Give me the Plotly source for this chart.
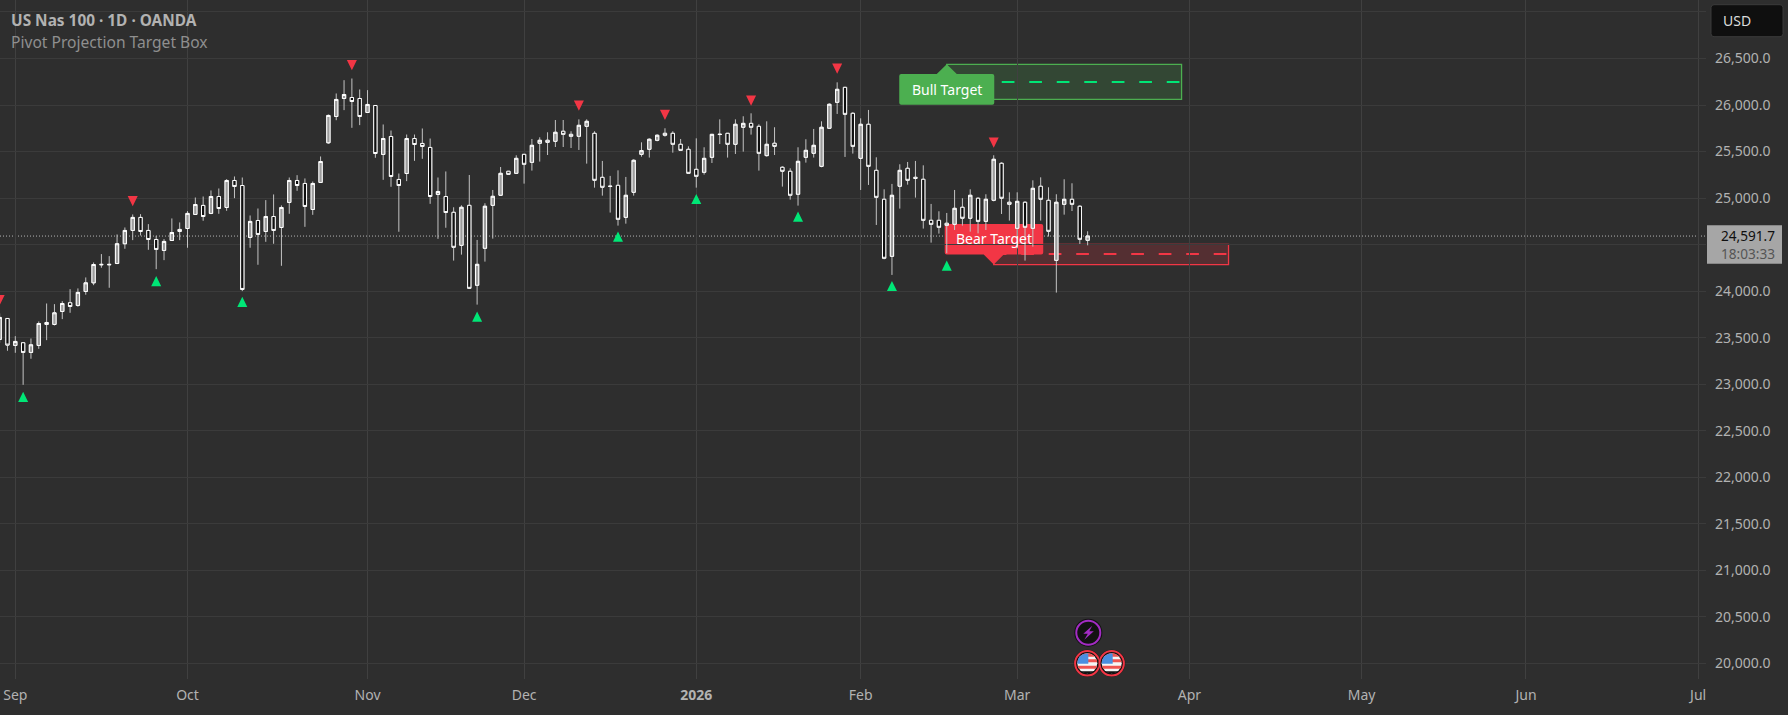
#!/usr/bin/env python
# coding: utf-8
import numpy as np
import plotly.graph_objects as go

# Daily bars, first bar sits two sessions before the September gridline
bar_index = list(range(-2, 138))
opens = [
    23481, 23706, 23416, 23445, 23341, 23416, 23663, 23642, 23781, 23875,
    23846, 23996, 24089, 24288, 24288, 24297, 24509, 24652, 24792, 24652,
    24555, 24437, 24544, 24663, 24673, 24824, 24921, 24835, 25017, 24899,
    25189, 25135, 24577, 24759, 24641, 24802, 24684, 24953, 25189, 25157,
    24877, 25168, 25594, 25877, 26070, 26081, 26070, 25920, 25995, 25469,
    25662, 25200, 25264, 25640, 25587, 25544, 25039, 25017, 24847, 24492,
    24922, 24063, 24460, 24922, 25030, 25288, 25266, 25470, 25384, 25589,
    25621, 25610, 25718, 25685, 25664, 25771, 25696, 25223, 25129, 25137,
    24793, 25062, 25470, 25524, 25621, 25696, 25696, 25578, 25524, 25309,
    25277, 25438, 25687, 25696, 25578, 25761, 25803, 25771, 25456, 25589,
    25331, 25288, 25041, 25438, 25481, 25341, 25750, 26029, 26190, 25911,
    25427, 25793, 25298, 24987, 24374, 25127, 25320, 25223, 25202, 24761,
    24761, 24729, 24718, 24901, 24783, 24998, 24750, 24976, 25374, 24955,
    24675, 24955, 24675, 25127, 24976, 24331, 24933, 24987, 24912, 24546,
]
highs = [
    23760, 23710, 23516, 23450, 23491, 23674, 23867, 23860, 23892, 24021,
    24029, 24147, 24308, 24398, 24376, 24609, 24684, 24824, 24827, 24720,
    24595, 24559, 24781, 24738, 24860, 25006, 25017, 25082, 25103, 25203,
    25232, 25221, 24813, 24888, 24978, 25039, 24921, 25221, 25246, 25211,
    25178, 25447, 25898, 26124, 26267, 26285, 26167, 26160, 26000, 25791,
    25726, 25264, 25683, 25683, 25748, 25640, 25221, 25286, 24901, 24922,
    25248, 24550, 24944, 25087, 25334, 25292, 25460, 25474, 25635, 25653,
    25707, 25839, 25839, 25718, 25846, 25846, 25718, 25399, 25238, 25298,
    25227, 25417, 25599, 25642, 25685, 25750, 25718, 25635, 25556, 25642,
    25546, 25689, 25846, 25700, 25846, 25879, 25911, 25793, 25825, 25761,
    25341, 25320, 25546, 25632, 25743, 25825, 26018, 26244, 26195, 25922,
    25857, 25947, 25438, 25094, 25152, 25363, 25388, 25399, 25352, 24937,
    24858, 24840, 25087, 24998, 25094, 25008, 25041, 25460, 25384, 25062,
    25062, 24965, 25191, 25223, 25116, 25041, 25202, 25159, 24922, 24643,
]
lows = [
    23445, 23359, 23337, 22993, 23273, 23380, 23473, 23631, 23699, 23767,
    23832, 23961, 24064, 24251, 24036, 24290, 24455, 24548, 24598, 24444,
    24236, 24333, 24541, 24548, 24466, 24820, 24756, 24827, 24831, 24863,
    24999, 24000, 24466, 24283, 24530, 24509, 24272, 24831, 25078, 24691,
    24820, 25164, 25583, 25837, 25945, 25755, 25784, 25916, 25433, 25196,
    25121, 24638, 25182, 25400, 25422, 24938, 24562, 24681, 24328, 24392,
    24025, 23855, 24317, 24564, 25026, 25252, 25259, 25155, 25295, 25392,
    25463, 25549, 25549, 25538, 25517, 25370, 25112, 25026, 24844, 24704,
    24725, 25026, 25445, 25435, 25610, 25660, 25488, 25510, 25263, 25112,
    25252, 25377, 25581, 25435, 25474, 25499, 25682, 25295, 25445, 25463,
    25123, 24983, 24919, 25381, 25435, 25331, 25746, 25904, 25442, 25478,
    25087, 25141, 24711, 24342, 24174, 24887, 25144, 25005, 24672, 24521,
    24618, 24407, 24657, 24704, 24639, 24621, 24657, 24965, 24829, 24758,
    24460, 24328, 24478, 24758, 24586, 23984, 24822, 24861, 24507, 24492,
]
closes = [
    23717, 23420, 23459, 23341, 23423, 23652, 23642, 23767, 23867, 23835,
    23986, 24089, 24286, 24284, 24284, 24509, 24652, 24792, 24641, 24555,
    24448, 24534, 24630, 24641, 24835, 24931, 24802, 25017, 24888, 25189,
    25125, 24018, 24749, 24609, 24802, 24652, 24899, 25189, 25135, 24910,
    25157, 25393, 25888, 26060, 26113, 26038, 25877, 26006, 25479, 25640,
    25232, 25135, 25640, 25576, 25555, 25017, 25071, 24845, 24471, 24901,
    24030, 24288, 24912, 25019, 25266, 25255, 25427, 25363, 25567, 25621,
    25599, 25707, 25685, 25664, 25782, 25825, 25191, 25116, 25125, 24772,
    25030, 25406, 25510, 25632, 25675, 25675, 25578, 25513, 25266, 25234,
    25427, 25685, 25683, 25578, 25793, 25803, 25761, 25481, 25578, 25556,
    25288, 25030, 25395, 25513, 25567, 25761, 26008, 26169, 25900, 25556,
    25793, 25341, 25008, 24353, 25030, 25298, 25191, 25212, 24761, 24718,
    24686, 24707, 24890, 24783, 25030, 24750, 24987, 25417, 24998, 24933,
    24965, 24686, 25105, 24987, 24643, 24955, 24987, 24933, 24557, 24592,
]

# Pivot markers from the indicator
pivot_high_bars = [-2, 15, 43, 72, 83, 94, 105, 125]
pivot_high_prices = [23903, 24967, 26429, 25993, 25893, 26047, 26391, 25596]
pivot_low_bars = [1, 18, 29, 59, 77, 87, 100, 112, 119]
pivot_low_prices = [22864, 24107, 23885, 23726, 24586, 24990, 24801, 24055, 24274]

# Target boxes
bull_start, bull_end = 119, 149
bull_top, bull_mid, bull_bottom = 26437, 26248, 26061
bear_start, bear_end = 125, 155
bear_top, bear_mid, bear_bottom = 24503, 24399, 24285
last_price = 24591.7

# Axis ticks
month_bars = [0, 22, 45, 65, 87, 108, 128, 150, 172, 193, 215]
month_labels = ["Sep", "Oct", "Nov", "Dec", "<b>2026</b>", "Feb", "Mar", "Apr", "May", "Jun", "Jul"]
price_ticks = [20000, 20500, 21000, 21500, 22000, 22500, 23000, 23500, 24000, 24500, 25000, 25500, 26000, 26500, 27000]
# 24,500 sits behind the price tag and 27,000 behind the USD button
price_labels = ["20,000.0", "20,500.0", "21,000.0", "21,500.0", "22,000.0", "22,500.0", "23,000.0", "23,500.0",
                "24,000.0", "", "25,000.0", "25,500.0", "26,000.0", "26,500.0", ""]

BG = "#2e2e2e"
TEXT = "#b2b2b2"
RED = "#f23645"
LIME = "#00e676"
GREEN = "#4caf50"
FONT = "Noto Sans"

# plot area in page pixels
PLOT_W = 1706
PLOT_H = 679


def paper_x(px):
    return px / PLOT_W


def paper_y(py):
    return (PLOT_H - py) / PLOT_H


def chord_path(r, top, bottom, left=None, right=None):
    # piece of a circle between two heights, as a polygon, y is up from the centre
    ys = np.linspace(top, bottom, 12)
    half = np.sqrt(np.maximum(r * r - ys * ys, 0))
    xl = -half if left is None else np.maximum(-half, left)
    xr = half if right is None else np.minimum(half, right)
    pts = list(zip(xr, ys)) + list(zip(xl[::-1], ys[::-1]))
    return "M " + " L ".join(f"{x:.2f},{y:.2f}" for x, y in pts) + " Z"


def label_path(left, right, near, far, flip):
    # rounded label with a notch, apex on the anchor, near/far are heights from the apex
    s = -1 if flip else 1
    n, f = near * s, far * s
    r = 2 * s
    return (f"M 0,0 L {-10},{n} L {left + 2},{n} Q {left},{n} {left},{n + r} L {left},{f - r} "
            f"Q {left},{f} {left + 2},{f} L {right - 2},{f} Q {right},{f} {right},{f - r} "
            f"L {right},{n + r} Q {right},{n} {right - 2},{n} L 10,{n} Z")


def triangles(bars, prices, pointing_up):
    # filled triangles about 10px square, one subpath per pivot
    xs, ys = [], []
    tip = 55 if pointing_up else -55
    for b, p in zip(bars, prices):
        xs += [b - 0.64, b + 0.64, b, b - 0.64, None]
        ys += [p - tip, p - tip, p + tip, p - tip, None]
    return xs, ys


fig = go.Figure()

# first pass draws the thin gray wicks, second pass the white outlined bodies without wicks
wick = dict(line=dict(color="#c4c4c4", width=1), fillcolor="#c4c4c4")
fig.add_trace(go.Candlestick(x=bar_index, open=opens, high=highs, low=lows, close=closes, whiskerwidth=0,
                             increasing=wick, decreasing=wick))
body_top = np.maximum(opens, closes)
body_bottom = np.minimum(opens, closes)
fig.add_trace(go.Candlestick(x=bar_index, open=opens, high=body_top, low=body_bottom, close=closes, whiskerwidth=0,
                             increasing=dict(line=dict(color="#ffffff", width=1), fillcolor="#9c9c9c"),
                             decreasing=dict(line=dict(color="#ffffff", width=1), fillcolor="#0e0e0e")))

tx, ty = triangles(pivot_high_bars, pivot_high_prices, False)
fig.add_trace(go.Scatter(x=tx, y=ty, mode="lines", fill="toself", fillcolor=RED, line=dict(width=0)))
tx, ty = triangles(pivot_low_bars, pivot_low_prices, True)
fig.add_trace(go.Scatter(x=tx, y=ty, mode="lines", fill="toself", fillcolor=LIME, line=dict(width=0)))

shapes = [
    # last price line
    dict(type="line", xref="paper", x0=0, x1=1, yref="y", y0=last_price, y1=last_price, layer="below",
         line=dict(color="#b4b4b4", width=1, dash="1px,2px")),
    # bull box
    dict(type="rect", xref="x", yref="y", x0=bull_start, x1=bull_end, y0=bull_bottom, y1=bull_top, layer="below",
         fillcolor="rgba(76,175,80,0.2)", line=dict(color=GREEN, width=1.3)),
    dict(type="line", xref="x", yref="y", x0=bull_start, x1=bull_end, y0=bull_mid, y1=bull_mid, layer="below",
         line=dict(color=LIME, width=2, dash="12.7px,14.8px")),
    dict(type="path", xref="x", yref="y", xsizemode="pixel", ysizemode="pixel", xanchor=bull_start, yanchor=bull_top,
         path=label_path(-47.5, 47.5, 9.7, 40.3, True), fillcolor=GREEN, line=dict(width=0), layer="below"),
    # bear box
    dict(type="rect", xref="x", yref="y", x0=bear_start, x1=bear_end, y0=bear_bottom, y1=bear_top, layer="below",
         fillcolor="rgba(242,54,69,0.2)", line=dict(color=RED, width=1.3)),
    dict(type="line", xref="x", yref="y", x0=bear_start, x1=bear_end, y0=bear_mid, y1=bear_mid, layer="below",
         line=dict(color=RED, width=2, dash="12.7px,14.8px")),
    dict(type="path", xref="x", yref="y", xsizemode="pixel", ysizemode="pixel", xanchor=bear_start, yanchor=bear_bottom,
         path=label_path(-49, 49.5, 10, 40.7, False), fillcolor=RED, line=dict(width=0), layer="below"),
    # USD button
    dict(type="path", xref="paper", yref="paper", xsizemode="pixel", ysizemode="pixel",
         xanchor=paper_x(1711), yanchor=paper_y(4.7),
         path="M 3,0 L 69,0 Q 72,0 72,-3 L 72,-29 Q 72,-32 69,-32 L 3,-32 Q 0,-32 0,-29 L 0,-3 Q 0,0 3,0 Z",
         fillcolor="#0f0f0f", line=dict(color="#3a3a3a", width=1)),
    # last price tag
    dict(type="rect", xref="paper", yref="paper", x0=paper_x(1707), x1=paper_x(1782), y0=paper_y(263.7), y1=paper_y(225.3),
         fillcolor="#a6a6a6", line=dict(width=0)),
]


def icon(cx, cy, path_list):
    anchor = dict(xref="paper", yref="paper", xsizemode="pixel", ysizemode="pixel",
                  xanchor=paper_x(cx), yanchor=paper_y(cy))
    for kind, kw in path_list:
        shapes.append(dict(type=kind, **anchor, **kw))


def circle(r, fill, line_color=None, width=0):
    return ("circle", dict(x0=-r, x1=r, y0=-r, y1=r, fillcolor=fill,
                           line=dict(color=line_color or fill, width=width)))


def flag_icon(cx, cy):
    icon(cx, cy, [
        circle(13.5, "#121212"),
        circle(12.2, "#121212", RED, 2),
        circle(10, "#f5f5f5"),
        ("path", dict(path=chord_path(10, 10, 6.5), fillcolor="#ef5350", line=dict(width=0))),
        ("path", dict(path=chord_path(10, 4, 1), fillcolor="#ef5350", line=dict(width=0))),
        ("path", dict(path=chord_path(10, -2.5, -5.5), fillcolor="#ef5350", line=dict(width=0))),
        ("path", dict(path=chord_path(10, 10, -0.5, right=1), fillcolor="#4a8fe0", line=dict(width=0))),
        ("path", dict(path=chord_path(10, -8, -10), fillcolor="#121212", line=dict(width=0))),
    ])


# news / event bubbles under the candles
icon(1088.3, 632.7, [
    circle(14, "#121212"),
    circle(12, "#121212", "#a32cc4", 2),
    ("path", dict(path="M 4,7 L -5,-1 L -0.5,-1 L -4,-7 L 5.5,1.5 L 1,1.5 Z", fillcolor="#a32cc4", line=dict(width=0))),
])
flag_icon(1087.3, 663.3)
flag_icon(1111.7, 663.3)

annotations = [
    dict(xref="paper", yref="paper", x=paper_x(9), y=paper_y(20), xanchor="left", yanchor="middle", showarrow=False,
         text="<b>US Nas 100 · 1D · OANDA</b>", font=dict(family=FONT, size=15.4, color="#b2b2b2")),
    dict(xref="paper", yref="paper", x=paper_x(9), y=paper_y(41.5), xanchor="left", yanchor="middle", showarrow=False,
         text="Pivot Projection Target Box", font=dict(family=FONT, size=15.6, color="#8f8f8f")),
    dict(xref="x", yref="y", x=bull_start, y=26169, showarrow=False, xanchor="center", yanchor="middle",
         text="Bull Target", font=dict(family=FONT, size=14, color="#ffffff")),
    dict(xref="x", yref="y", x=bear_start, y=24561, showarrow=False, xanchor="center", yanchor="middle",
         text="Bear Target", font=dict(family=FONT, size=14, color="#ffffff")),
    dict(xref="paper", yref="paper", x=paper_x(1721), y=paper_y(20.5), xanchor="left", yanchor="middle", showarrow=False,
         text="USD", font=dict(family=FONT, size=14, color="#dcdcdc")),
    dict(xref="paper", yref="paper", x=paper_x(1777), y=paper_y(235), xanchor="right", yanchor="middle", showarrow=False,
         text="24,591.7", font=dict(family=FONT, size=13.6, color="#0f0f0f")),
    dict(xref="paper", yref="paper", x=paper_x(1777), y=paper_y(253), xanchor="right", yanchor="middle", showarrow=False,
         text="18:03:33", font=dict(family=FONT, size=13.6, color="#555555")),
]

fig.update_layout(
    width=1788,
    height=715,
    margin=dict(l=0, r=82, t=0, b=36, pad=0),
    paper_bgcolor=BG,
    plot_bgcolor=BG,
    boxmode="overlay",
    boxgap=0.4,
    showlegend=False,
    hovermode=False,
    shapes=shapes,
    annotations=annotations,
    font=dict(family=FONT, size=14, color=TEXT),
    xaxis=dict(range=[-1.955, 216], tickmode="array", tickvals=month_bars, ticktext=month_labels,
               rangeslider=dict(visible=False),
               showgrid=True, gridcolor="#404040", gridwidth=1, zeroline=False, showline=False, ticks="",
               tickangle=0, tickfont=dict(family=FONT, size=14, color=TEXT), ticklabelstandoff=6),
    yaxis=dict(range=[19831.3, 27128.7], side="right", tickmode="array", tickvals=price_ticks, ticktext=price_labels,
               showgrid=True, gridcolor="#3b3b3b", gridwidth=1, zeroline=False, showline=False, ticks="",
               tickfont=dict(family=FONT, size=14, color=TEXT), ticklabelstandoff=8),
)

fig.write_html("out.html", config={"displayModeBar": False},
               post_script="document.body.style.margin='0';document.documentElement.style.overflow='hidden';")
